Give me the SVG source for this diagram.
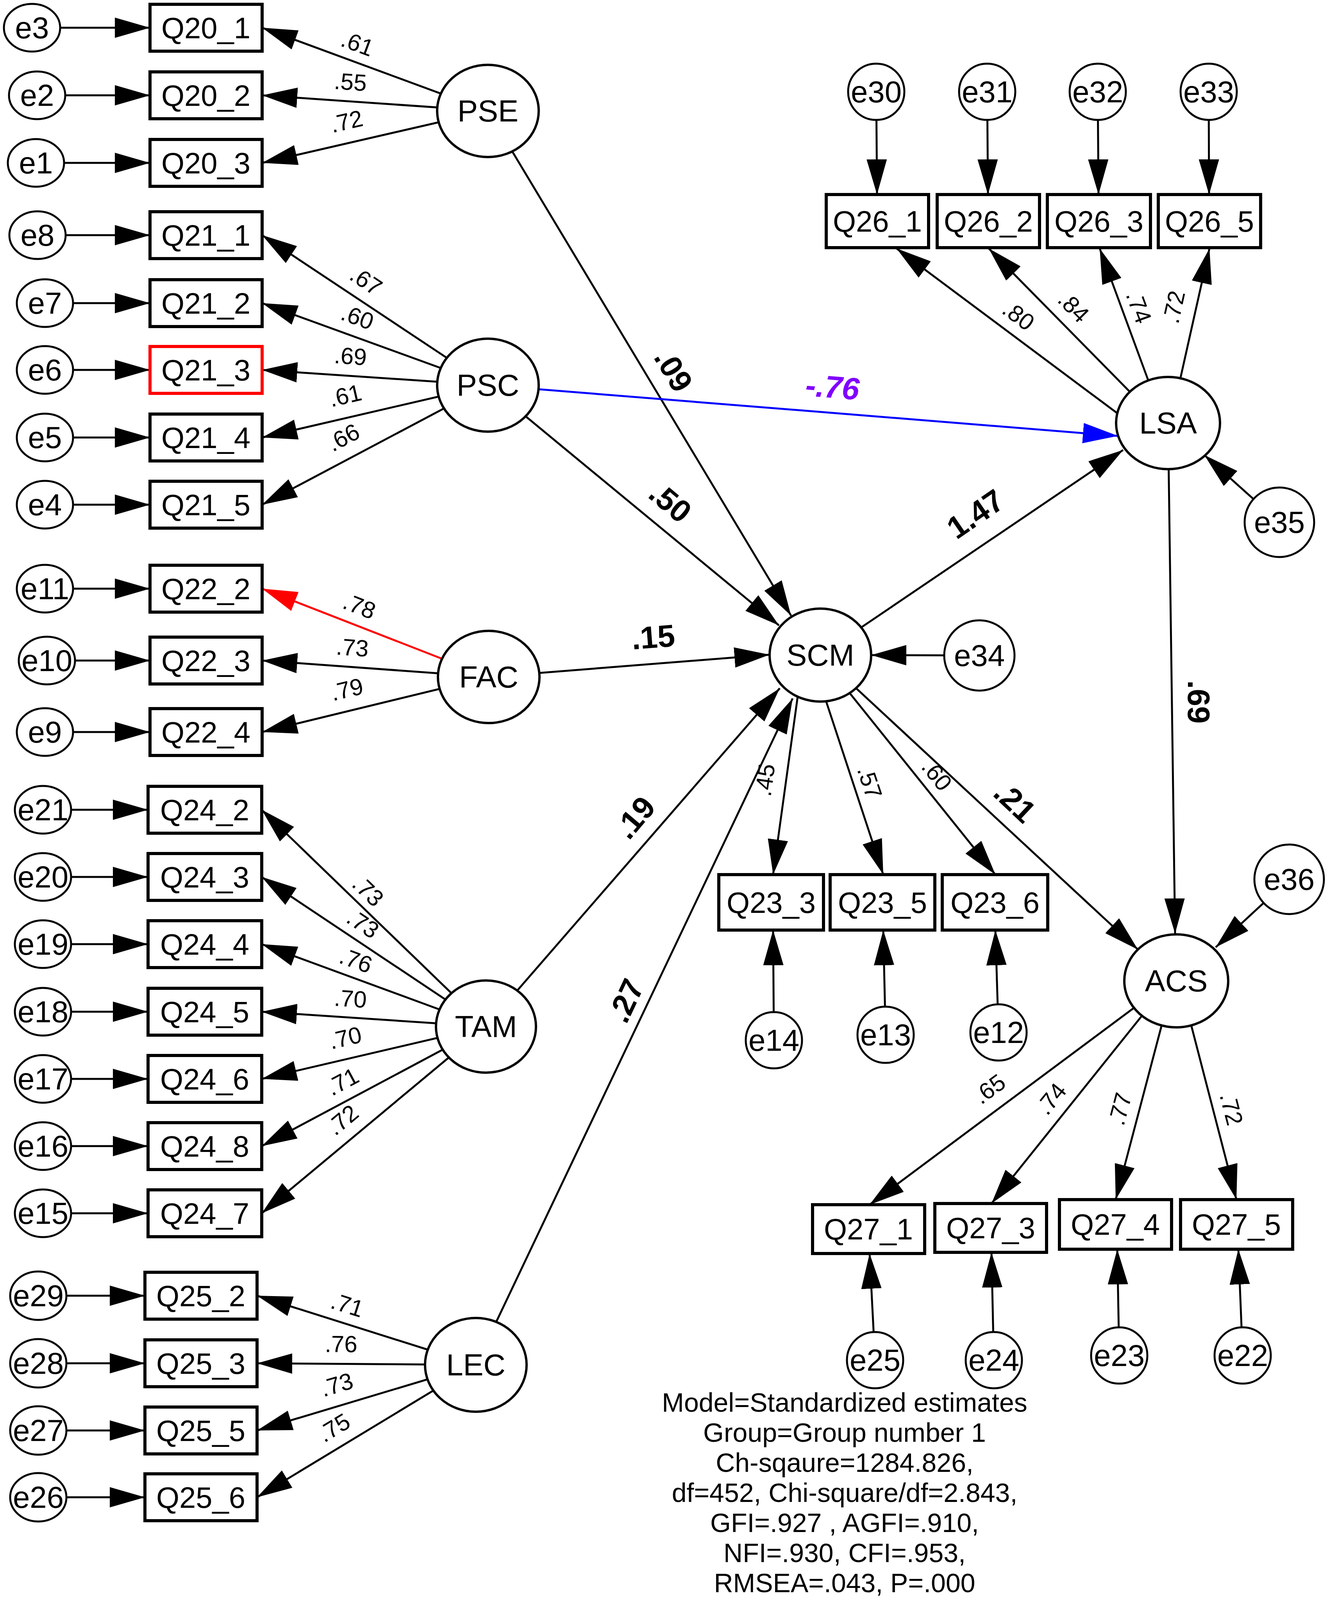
<svg xmlns="http://www.w3.org/2000/svg" width="3402" height="4367" viewBox="0 0 3402 4367">
<style>
.ln{stroke:#000;stroke-width:5;fill:none;marker-end:url(#ah)}
.lr{stroke:#f00;stroke-width:5;fill:none;marker-end:url(#ahr)}
.lb{stroke:#00f;stroke-width:5;fill:none;marker-end:url(#ahb)}
.box{fill:#fff;stroke:#000;stroke-width:8}
.boxr{fill:#fff;stroke:#f00;stroke-width:8}
.lat{fill:#fff;stroke:#000;stroke-width:6}
.err{fill:#fff;stroke:#000;stroke-width:5}
text{font-family:"Liberation Sans",Arial,Helvetica,sans-serif;text-anchor:middle;dominant-baseline:central;fill:#000}
.nl{font-size:76px}
.el{font-size:78px}
.ll{font-size:78px}
.ld{font-size:60px}
.st{font-size:80px;font-weight:bold}
.pu{fill:#8000ff;font-style:italic}
.note{font-size:68px;dominant-baseline:auto}
</style>
<defs>
<marker id="ah" markerUnits="userSpaceOnUse" markerWidth="90" markerHeight="52" viewBox="0 0 90 52" refX="90" refY="26" orient="auto"><path d="M0,0 L90,26 L0,52 z" fill="#000"/></marker>
<marker id="ahr" markerUnits="userSpaceOnUse" markerWidth="90" markerHeight="52" viewBox="0 0 90 52" refX="90" refY="26" orient="auto"><path d="M0,0 L90,26 L0,52 z" fill="#f00"/></marker>
<marker id="ahb" markerUnits="userSpaceOnUse" markerWidth="90" markerHeight="52" viewBox="0 0 90 52" refX="90" refY="26" orient="auto"><path d="M0,0 L90,26 L0,52 z" fill="#00f"/></marker>
</defs>
<rect width="3402" height="4367" fill="#fff"/>
<g id="connectors">
<line class="ln" x1="82" y1="71" x2="384" y2="71"/>
<line class="ln" x1="95" y1="244" x2="384" y2="244"/>
<line class="ln" x1="92" y1="417" x2="384" y2="417"/>
<line class="ln" x1="96" y1="602" x2="384" y2="602"/>
<line class="ln" x1="115" y1="776" x2="384" y2="776"/>
<line class="ln" x1="115" y1="947" x2="384" y2="947"/>
<line class="ln" x1="115" y1="1120" x2="384" y2="1120"/>
<line class="ln" x1="115" y1="1292" x2="384" y2="1292"/>
<line class="ln" x1="115" y1="1507" x2="384" y2="1507"/>
<line class="ln" x1="120" y1="1691" x2="384" y2="1691"/>
<line class="ln" x1="115" y1="1874" x2="384" y2="1874"/>
<line class="ln" x1="110" y1="2073" x2="379" y2="2073"/>
<line class="ln" x1="110" y1="2245" x2="379" y2="2245"/>
<line class="ln" x1="110" y1="2417" x2="379" y2="2417"/>
<line class="ln" x1="110" y1="2590" x2="379" y2="2590"/>
<line class="ln" x1="110" y1="2762" x2="379" y2="2762"/>
<line class="ln" x1="110" y1="2934" x2="379" y2="2934"/>
<line class="ln" x1="110" y1="3106" x2="379" y2="3106"/>
<line class="ln" x1="98" y1="3317" x2="371" y2="3317"/>
<line class="ln" x1="98" y1="3490" x2="371" y2="3490"/>
<line class="ln" x1="98" y1="3662" x2="371" y2="3662"/>
<line class="ln" x1="98" y1="3833" x2="371" y2="3833"/>
<line class="ln" x1="1249" y1="284" x2="671" y2="71"/>
<line class="ln" x1="1249" y1="284" x2="671" y2="244"/>
<line class="ln" x1="1249" y1="284" x2="671" y2="417"/>
<line class="ln" x1="1249" y1="986" x2="671" y2="602"/>
<line class="ln" x1="1249" y1="986" x2="671" y2="776"/>
<line class="ln" x1="1249" y1="986" x2="671" y2="947"/>
<line class="ln" x1="1249" y1="986" x2="671" y2="1120"/>
<line class="ln" x1="1249" y1="986" x2="671" y2="1292"/>
<line class="lr" x1="1251" y1="1733" x2="671" y2="1507"/>
<line class="ln" x1="1251" y1="1733" x2="671" y2="1691"/>
<line class="ln" x1="1251" y1="1733" x2="671" y2="1874"/>
<line class="ln" x1="1244" y1="2628" x2="670" y2="2073"/>
<line class="ln" x1="1244" y1="2628" x2="670" y2="2245"/>
<line class="ln" x1="1244" y1="2628" x2="670" y2="2417"/>
<line class="ln" x1="1244" y1="2628" x2="670" y2="2590"/>
<line class="ln" x1="1244" y1="2628" x2="670" y2="2762"/>
<line class="ln" x1="1244" y1="2628" x2="670" y2="2934"/>
<line class="ln" x1="1244" y1="2628" x2="670" y2="3106"/>
<line class="ln" x1="1218" y1="3494" x2="658" y2="3317"/>
<line class="ln" x1="1218" y1="3494" x2="658" y2="3490"/>
<line class="ln" x1="1218" y1="3494" x2="658" y2="3662"/>
<line class="ln" x1="1218" y1="3494" x2="658" y2="3833"/>
<line class="ln" x1="1249" y1="284" x2="2025" y2="1576"/>
<line class="ln" x1="1249" y1="986" x2="1994" y2="1601"/>
<line class="lb" x1="1249" y1="986" x2="2862" y2="1116"/>
<line class="ln" x1="1251" y1="1733" x2="1970" y2="1676"/>
<line class="ln" x1="1244" y1="2628" x2="1996" y2="1762"/>
<line class="ln" x1="1218" y1="3494" x2="2029" y2="1788"/>
<line class="ln" x1="2100" y1="1677" x2="2875" y2="1152"/>
<line class="ln" x1="2100" y1="1677" x2="2913" y2="2431"/>
<line class="ln" x1="2990" y1="1083" x2="3008" y2="2390"/>
<line class="ln" x1="2507" y1="1678" x2="2230" y2="1677"/>
<line class="ln" x1="3275" y1="1337" x2="3083" y2="1165"/>
<line class="ln" x1="3300" y1="2251" x2="3112" y2="2425"/>
<line class="ln" x1="2871" y1="1066" x2="2295" y2="636"/>
<line class="ln" x1="2903" y1="1014" x2="2531" y2="636"/>
<line class="ln" x1="2946" y1="992" x2="2815" y2="636"/>
<line class="ln" x1="3017" y1="989" x2="3096" y2="636"/>
<line class="ln" x1="2243" y1="235" x2="2245" y2="498"/>
<line class="ln" x1="2527" y1="235" x2="2529" y2="498"/>
<line class="ln" x1="2810" y1="235" x2="2812" y2="498"/>
<line class="ln" x1="3094" y1="235" x2="3095" y2="498"/>
<line class="ln" x1="2044" y1="1768" x2="1979" y2="2239"/>
<line class="ln" x1="2109" y1="1778" x2="2261" y2="2239"/>
<line class="ln" x1="2162" y1="1758" x2="2548" y2="2239"/>
<line class="ln" x1="1981" y1="2663" x2="1979" y2="2381"/>
<line class="ln" x1="2267" y1="2649" x2="2261" y2="2381"/>
<line class="ln" x1="2556" y1="2643" x2="2548" y2="2381"/>
<line class="ln" x1="2919" y1="2568" x2="2226" y2="3084"/>
<line class="ln" x1="2933" y1="2588" x2="2538" y2="3081"/>
<line class="ln" x1="2977" y1="2612" x2="2856" y2="3071"/>
<line class="ln" x1="3046" y1="2612" x2="3165" y2="3071"/>
<line class="ln" x1="2240" y1="3482" x2="2226" y2="3209"/>
<line class="ln" x1="2544" y1="3482" x2="2538" y2="3206"/>
<line class="ln" x1="2865" y1="3470" x2="2860" y2="3198"/>
<line class="ln" x1="3181" y1="3470" x2="3170" y2="3198"/>
</g>
<g id="nodes">
<g id="Q20_1"><rect class="box" x="384" y="11" width="287" height="120"/><text class="nl" x="527" y="71">Q20_1</text></g>
<g id="Q20_2"><rect class="box" x="384" y="184" width="287" height="120"/><text class="nl" x="527" y="244">Q20_2</text></g>
<g id="Q20_3"><rect class="box" x="384" y="357" width="287" height="120"/><text class="nl" x="527" y="417">Q20_3</text></g>
<g id="Q21_1"><rect class="box" x="384" y="542" width="287" height="120"/><text class="nl" x="527" y="602">Q21_1</text></g>
<g id="Q21_2"><rect class="box" x="384" y="716" width="287" height="120"/><text class="nl" x="527" y="776">Q21_2</text></g>
<g id="Q21_3"><rect class="boxr" x="384" y="887" width="287" height="120"/><text class="nl" x="527" y="947">Q21_3</text></g>
<g id="Q21_4"><rect class="box" x="384" y="1060" width="287" height="120"/><text class="nl" x="527" y="1120">Q21_4</text></g>
<g id="Q21_5"><rect class="box" x="384" y="1232" width="287" height="120"/><text class="nl" x="527" y="1292">Q21_5</text></g>
<g id="Q22_2"><rect class="box" x="384" y="1447" width="287" height="120"/><text class="nl" x="527" y="1507">Q22_2</text></g>
<g id="Q22_3"><rect class="box" x="384" y="1631" width="287" height="120"/><text class="nl" x="527" y="1691">Q22_3</text></g>
<g id="Q22_4"><rect class="box" x="384" y="1814" width="287" height="120"/><text class="nl" x="527" y="1874">Q22_4</text></g>
<g id="Q24_2"><rect class="box" x="379" y="2013" width="291" height="120"/><text class="nl" x="524" y="2073">Q24_2</text></g>
<g id="Q24_3"><rect class="box" x="379" y="2185" width="291" height="120"/><text class="nl" x="524" y="2245">Q24_3</text></g>
<g id="Q24_4"><rect class="box" x="379" y="2357" width="291" height="120"/><text class="nl" x="524" y="2417">Q24_4</text></g>
<g id="Q24_5"><rect class="box" x="379" y="2530" width="291" height="120"/><text class="nl" x="524" y="2590">Q24_5</text></g>
<g id="Q24_6"><rect class="box" x="379" y="2702" width="291" height="120"/><text class="nl" x="524" y="2762">Q24_6</text></g>
<g id="Q24_8"><rect class="box" x="379" y="2874" width="291" height="120"/><text class="nl" x="524" y="2934">Q24_8</text></g>
<g id="Q24_7"><rect class="box" x="379" y="3046" width="291" height="120"/><text class="nl" x="524" y="3106">Q24_7</text></g>
<g id="Q25_2"><rect class="box" x="371" y="3257" width="287" height="120"/><text class="nl" x="514" y="3317">Q25_2</text></g>
<g id="Q25_3"><rect class="box" x="371" y="3430" width="287" height="120"/><text class="nl" x="514" y="3490">Q25_3</text></g>
<g id="Q25_5"><rect class="box" x="371" y="3602" width="287" height="120"/><text class="nl" x="514" y="3662">Q25_5</text></g>
<g id="Q25_6"><rect class="box" x="371" y="3773" width="287" height="120"/><text class="nl" x="514" y="3833">Q25_6</text></g>
<g id="Q26_1"><rect class="box" x="2115" y="498" width="262" height="136"/><text class="nl" x="2246" y="566">Q26_1</text></g>
<g id="Q26_2"><rect class="box" x="2399" y="498" width="262" height="136"/><text class="nl" x="2530" y="566">Q26_2</text></g>
<g id="Q26_3"><rect class="box" x="2681" y="498" width="264" height="136"/><text class="nl" x="2813" y="566">Q26_3</text></g>
<g id="Q26_5"><rect class="box" x="2965" y="498" width="262" height="136"/><text class="nl" x="3096" y="566">Q26_5</text></g>
<g id="Q23_3"><rect class="box" x="1840" y="2239" width="268" height="142"/><text class="nl" x="1974" y="2310">Q23_3</text></g>
<g id="Q23_5"><rect class="box" x="2125" y="2239" width="268" height="142"/><text class="nl" x="2259" y="2310">Q23_5</text></g>
<g id="Q23_6"><rect class="box" x="2412" y="2239" width="270" height="142"/><text class="nl" x="2547" y="2310">Q23_6</text></g>
<g id="Q27_1"><rect class="box" x="2080" y="3084" width="287" height="125"/><text class="nl" x="2223" y="3146">Q27_1</text></g>
<g id="Q27_3"><rect class="box" x="2393" y="3081" width="286" height="125"/><text class="nl" x="2536" y="3143">Q27_3</text></g>
<g id="Q27_4"><rect class="box" x="2712" y="3071" width="287" height="127"/><text class="nl" x="2855" y="3134">Q27_4</text></g>
<g id="Q27_5"><rect class="box" x="3022" y="3071" width="287" height="127"/><text class="nl" x="3165" y="3134">Q27_5</text></g>
<g id="PSE"><ellipse class="lat" cx="1249" cy="284" rx="130" ry="118"/><text class="ll" x="1249" y="284">PSE</text></g>
<g id="PSC"><ellipse class="lat" cx="1249" cy="986" rx="130" ry="119"/><text class="ll" x="1249" y="986">PSC</text></g>
<g id="FAC"><ellipse class="lat" cx="1251" cy="1733" rx="130" ry="118"/><text class="ll" x="1251" y="1733">FAC</text></g>
<g id="TAM"><ellipse class="lat" cx="1244" cy="2628" rx="128" ry="118"/><text class="ll" x="1244" y="2628">TAM</text></g>
<g id="LEC"><ellipse class="lat" cx="1218" cy="3494" rx="130" ry="120"/><text class="ll" x="1218" y="3494">LEC</text></g>
<g id="SCM"><ellipse class="lat" cx="2100" cy="1677" rx="130" ry="119"/><text class="ll" x="2100" y="1677">SCM</text></g>
<g id="LSA"><ellipse class="lat" cx="2990" cy="1083" rx="133" ry="118"/><text class="ll" x="2990" y="1083">LSA</text></g>
<g id="ACS"><ellipse class="lat" cx="3011" cy="2511" rx="133" ry="119"/><text class="ll" x="3011" y="2511">ACS</text></g>
<g id="e3"><ellipse class="err" cx="82" cy="71" rx="72" ry="61"/><text class="el" x="82" y="71">e3</text></g>
<g id="e2"><ellipse class="err" cx="95" cy="244" rx="72" ry="61"/><text class="el" x="95" y="244">e2</text></g>
<g id="e1"><ellipse class="err" cx="92" cy="417" rx="72" ry="61"/><text class="el" x="92" y="417">e1</text></g>
<g id="e8"><ellipse class="err" cx="96" cy="602" rx="72" ry="61"/><text class="el" x="96" y="602">e8</text></g>
<g id="e7"><ellipse class="err" cx="115" cy="776" rx="72" ry="61"/><text class="el" x="115" y="776">e7</text></g>
<g id="e6"><ellipse class="err" cx="115" cy="947" rx="72" ry="61"/><text class="el" x="115" y="947">e6</text></g>
<g id="e5"><ellipse class="err" cx="115" cy="1120" rx="72" ry="61"/><text class="el" x="115" y="1120">e5</text></g>
<g id="e4"><ellipse class="err" cx="115" cy="1292" rx="72" ry="61"/><text class="el" x="115" y="1292">e4</text></g>
<g id="e11"><ellipse class="err" cx="115" cy="1507" rx="72" ry="61"/><text class="el" x="115" y="1507">e11</text></g>
<g id="e10"><ellipse class="err" cx="120" cy="1691" rx="72" ry="61"/><text class="el" x="120" y="1691">e10</text></g>
<g id="e9"><ellipse class="err" cx="115" cy="1874" rx="72" ry="61"/><text class="el" x="115" y="1874">e9</text></g>
<g id="e21"><ellipse class="err" cx="110" cy="2073" rx="72" ry="61"/><text class="el" x="110" y="2073">e21</text></g>
<g id="e20"><ellipse class="err" cx="110" cy="2245" rx="72" ry="61"/><text class="el" x="110" y="2245">e20</text></g>
<g id="e19"><ellipse class="err" cx="110" cy="2417" rx="72" ry="61"/><text class="el" x="110" y="2417">e19</text></g>
<g id="e18"><ellipse class="err" cx="110" cy="2590" rx="72" ry="61"/><text class="el" x="110" y="2590">e18</text></g>
<g id="e17"><ellipse class="err" cx="110" cy="2762" rx="72" ry="61"/><text class="el" x="110" y="2762">e17</text></g>
<g id="e16"><ellipse class="err" cx="110" cy="2934" rx="72" ry="61"/><text class="el" x="110" y="2934">e16</text></g>
<g id="e15"><ellipse class="err" cx="110" cy="3106" rx="72" ry="61"/><text class="el" x="110" y="3106">e15</text></g>
<g id="e29"><ellipse class="err" cx="98" cy="3317" rx="72" ry="62"/><text class="el" x="98" y="3317">e29</text></g>
<g id="e28"><ellipse class="err" cx="98" cy="3490" rx="72" ry="62"/><text class="el" x="98" y="3490">e28</text></g>
<g id="e27"><ellipse class="err" cx="98" cy="3662" rx="72" ry="62"/><text class="el" x="98" y="3662">e27</text></g>
<g id="e26"><ellipse class="err" cx="98" cy="3833" rx="72" ry="62"/><text class="el" x="98" y="3833">e26</text></g>
<g id="e30"><circle class="err" cx="2243" cy="235" r="72"/><text class="el" x="2243" y="235">e30</text></g>
<g id="e31"><circle class="err" cx="2527" cy="235" r="72"/><text class="el" x="2527" y="235">e31</text></g>
<g id="e32"><circle class="err" cx="2810" cy="235" r="72"/><text class="el" x="2810" y="235">e32</text></g>
<g id="e33"><circle class="err" cx="3094" cy="235" r="72"/><text class="el" x="3094" y="235">e33</text></g>
<g id="e34"><circle class="err" cx="2507" cy="1678" r="90"/><text class="el" x="2507" y="1678">e34</text></g>
<g id="e35"><circle class="err" cx="3275" cy="1337" r="89"/><text class="el" x="3275" y="1337">e35</text></g>
<g id="e36"><circle class="err" cx="3300" cy="2251" r="89"/><text class="el" x="3300" y="2251">e36</text></g>
<g id="e14"><circle class="err" cx="1981" cy="2663" r="72"/><text class="el" x="1981" y="2663">e14</text></g>
<g id="e13"><circle class="err" cx="2267" cy="2649" r="72"/><text class="el" x="2267" y="2649">e13</text></g>
<g id="e12"><circle class="err" cx="2556" cy="2643" r="72"/><text class="el" x="2556" y="2643">e12</text></g>
<g id="e25"><circle class="err" cx="2240" cy="3482" r="72"/><text class="el" x="2240" y="3482">e25</text></g>
<g id="e24"><circle class="err" cx="2544" cy="3482" r="72"/><text class="el" x="2544" y="3482">e24</text></g>
<g id="e23"><circle class="err" cx="2865" cy="3470" r="72"/><text class="el" x="2865" y="3470">e23</text></g>
<g id="e22"><circle class="err" cx="3181" cy="3470" r="72"/><text class="el" x="3181" y="3470">e22</text></g>
</g>
<g id="edge-labels">
<text class="ld" transform="translate(915,112) rotate(20.2)">.61</text>
<text class="ld" transform="translate(897,210) rotate(4)">.55</text>
<text class="ld" transform="translate(887,311) rotate(-13)">.72</text>
<text class="ld" transform="translate(937,719) rotate(33.6)">.67</text>
<text class="ld" transform="translate(915,812) rotate(20)">.60</text>
<text class="ld" transform="translate(897,912) rotate(3.9)">.69</text>
<text class="ld" transform="translate(884,1013) rotate(-13)">.61</text>
<text class="ld" transform="translate(879,1120) rotate(-27.9)">.66</text>
<text class="ld" transform="translate(920,1552) rotate(21.3)">.78</text>
<text class="ld" transform="translate(902,1658) rotate(4.1)">.73</text>
<text class="ld" transform="translate(888,1765) rotate(-13.7)">.79</text>
<text class="ld" transform="translate(942,2281) rotate(44)">.73</text>
<text class="ld" transform="translate(929,2365) rotate(33.7)">.73</text>
<text class="ld" transform="translate(911,2459) rotate(20.2)">.76</text>
<text class="ld" transform="translate(897,2557) rotate(3.8)">.70</text>
<text class="ld" transform="translate(884,2657) rotate(-13.1)">.70</text>
<text class="ld" transform="translate(877,2769) rotate(-28)">.71</text>
<text class="ld" transform="translate(877,2867) rotate(-39.8)">.72</text>
<text class="ld" transform="translate(889,3341) rotate(17.5)">.71</text>
<text class="ld" transform="translate(873,3441) rotate(0.4)">.76</text>
<text class="ld" transform="translate(862,3545) rotate(-16.7)">.73</text>
<text class="ld" transform="translate(855,3655) rotate(-31.2)">.75</text>
<text class="ld" transform="translate(2607,808) rotate(36.7)">.80</text>
<text class="ld" transform="translate(2748,786) rotate(45.5)">.84</text>
<text class="ld" transform="translate(2915,786) rotate(69.7)">.74</text>
<text class="ld" transform="translate(3005,786) rotate(-77.5)">.72</text>
<text class="ld" transform="translate(1958,1997) rotate(-82.2)">.45</text>
<text class="ld" transform="translate(2226,2003) rotate(71.7)">.57</text>
<text class="ld" transform="translate(2398,1984) rotate(51.2)">.60</text>
<text class="ld" transform="translate(2533,2788) rotate(-36.5)">.65</text>
<text class="ld" transform="translate(2691,2813) rotate(-51)">.74</text>
<text class="ld" transform="translate(2867,2839) rotate(-75.2)">.77</text>
<text class="ld" transform="translate(3152,2839) rotate(75.5)">.72</text>
<text class="st" transform="translate(1724,948) rotate(59)">.09</text>
<text class="st" transform="translate(1716,1286) rotate(40)">.50</text>
<text class="st" transform="translate(2497,1316) rotate(-34.5)">1.47</text>
<text class="st" transform="translate(1672,1631) rotate(-4.4)">.15</text>
<text class="st" transform="translate(1625,2093) rotate(-49.6)">.19</text>
<text class="st" transform="translate(1602,2562) rotate(-64.9)">.27</text>
<text class="st" transform="translate(2598,2053) rotate(43.3)">.21</text>
<text class="st" transform="translate(3068,1797) rotate(90)">.69</text>
<text class="st pu" transform="translate(2131,991) rotate(4.7)">-.76</text>
</g>
<g id="fit-note">
<text class="note" x="2162" y="3614">Model=Standardized estimates</text>
<text class="note" x="2162" y="3691">Group=Group number 1</text>
<text class="note" x="2162" y="3768">Ch-sqaure=1284.826,</text>
<text class="note" x="2162" y="3845">df=452, Chi-square/df=2.843,</text>
<text class="note" x="2162" y="3922">GFI=.927 , AGFI=.910,</text>
<text class="note" x="2162" y="3999">NFI=.930, CFI=.953,</text>
<text class="note" x="2162" y="4076">RMSEA=.043, P=.000</text>
</g>
</svg>
